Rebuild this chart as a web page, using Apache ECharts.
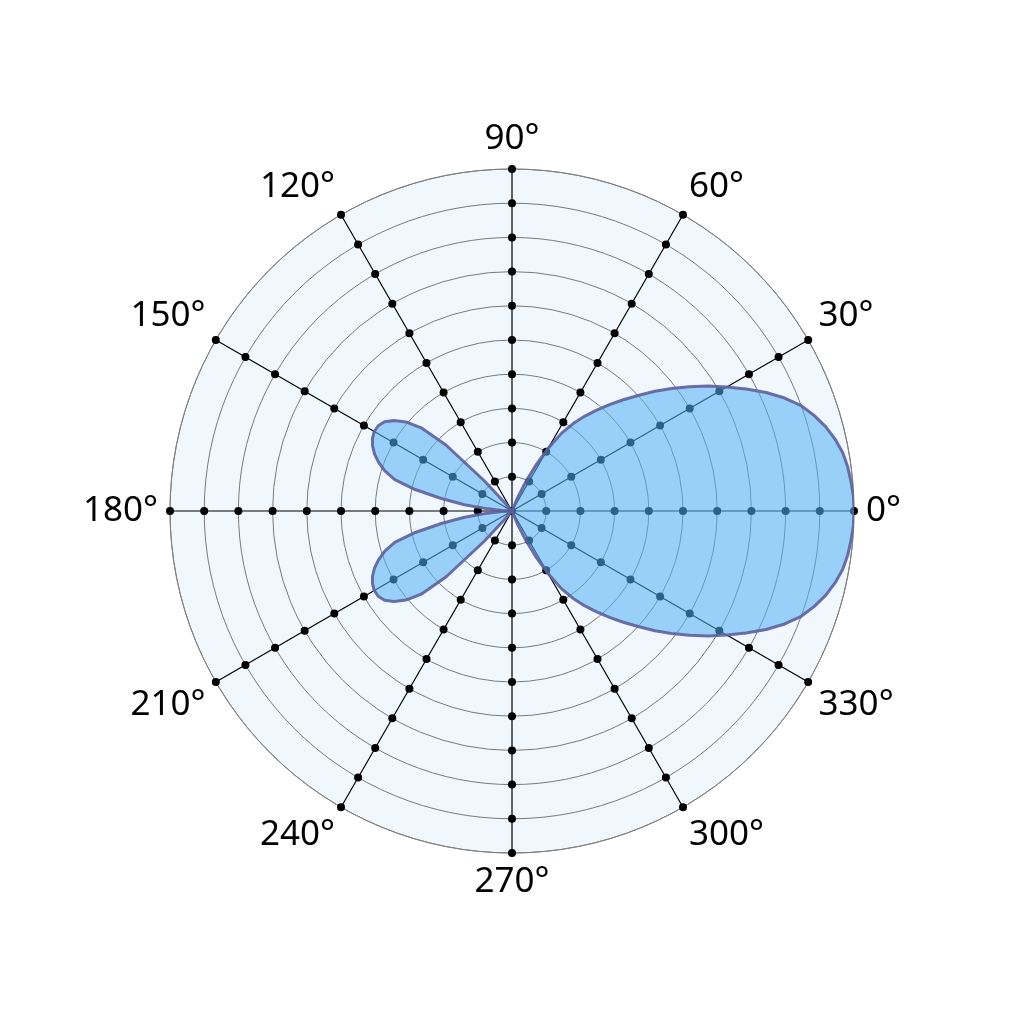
<!DOCTYPE html>
<html>
<head>
<meta charset="utf-8">
<script src="https://cdn.jsdelivr.net/npm/echarts@6/dist/echarts.min.js"></script>
<style>
  html, body { margin: 0; padding: 0; background: #fff; }
  #chart { width: 1024px; height: 1024px; }
</style>
</head>
<body>
<div id="chart"></div>
<script>
// grid ticks
var spokeAngles = [0, 30, 60, 90, 120, 150, 180, 210, 240, 270, 300, 330];
var ringValues = [1, 2, 3, 4, 5, 6, 7, 8, 9, 10];

// main lobe
var mainAngles = [0, 2.5, 5, 7.5, 10, 12.5, 15, 17.5, 20, 22.5, 25, 27.5, 30, 32.5, 35,
                  37.5, 40, 42.5, 45, 47.5, 50, 52.5, 55, 57.5, 60, 62.5, 65, 67.5, 70];
var mainRadii = [10, 9.99, 9.95, 9.9, 9.82, 9.68, 9.5, 9.27, 9.0, 8.63, 8.2, 7.72, 7.25, 6.8, 6.33,
                 5.88, 5.45, 5.0, 4.6, 4.22, 3.85, 3.5, 3.12, 2.7, 2.12, 1.5, 0.9, 0.4, 0];

// upper side lobe
var upperAngles = [130, 131, 132.5, 135, 137.5, 140, 142.5, 145, 147.5, 150, 152.5, 155,
                   157.5, 160, 162.5, 165, 167.5, 170, 172.5, 175, 177.5, 180];
var upperRadii = [0, 0.3, 1.2, 2.72, 3.6, 4.05, 4.35, 4.55, 4.64, 4.65, 4.6, 4.5,
                  4.35, 4.15, 3.9, 3.55, 2.9, 2.1, 1.4, 0.72, 0.3, 0];

// lower side lobe
var lowerAngles = [180, 182.5, 185, 187.5, 190, 192.5, 195, 197.5, 200, 202.5, 205, 207.5,
                   210, 212.5, 215, 217.5, 220, 222.5, 225, 227.5, 229, 230];
var lowerRadii = [0, 0.3, 0.72, 1.4, 2.1, 2.9, 3.55, 3.9, 4.15, 4.35, 4.5, 4.6,
                  4.65, 4.64, 4.55, 4.35, 4.05, 3.6, 2.72, 1.2, 0.3, 0];

function pairs(angles, radii) {
  var out = [];
  for (var i = 0; i < angles.length; i++) {
    out.push([radii[i], angles[i]]);
  }
  return out;
}

// main lobe is symmetric about 0°, mirror the read half
var mainData = [];
for (var i = mainAngles.length - 1; i > 0; i--) {
  mainData.push([mainRadii[i], 360 - mainAngles[i]]);
}
mainData = mainData.concat(pairs(mainAngles, mainRadii));

// dots on the spokes
var dotData = [[0, 0]];
for (var a = 0; a < spokeAngles.length; a++) {
  for (var r = 0; r < ringValues.length; r++) {
    dotData.push([ringValues[r], spokeAngles[a]]);
  }
}

var lobeStyle = {
  type: 'line',
  coordinateSystem: 'polar',
  polarIndex: 1,
  smooth: false,
  showSymbol: false,
  symbol: 'none',
  lineStyle: { color: '#5d5f9d', width: 3, opacity: 0.9, join: 'round' },
  areaStyle: { color: 'rgba(82,176,247,0.55)', opacity: 1 },
  z: 3
};

var chart = echarts.init(document.getElementById('chart'));
chart.setOption({
  backgroundColor: '#ffffff',
  animation: false,
  polar: [
    { center: [512, 511], radius: 342 },
    { center: [512, 511], radius: 342 }
  ],
  angleAxis: [
    {
      // background disc only
      polarIndex: 0,
      type: 'value', min: 0, max: 360, interval: 30,
      startAngle: 0, clockwise: false, z: 0,
      axisLine: { show: false },
      axisTick: { show: false },
      axisLabel: { show: false },
      splitLine: { show: false },
      splitArea: { show: true, areaStyle: { color: ['#f0f7fd'] } }
    },
    {
      polarIndex: 1,
      type: 'value', min: 0, max: 360, interval: 30,
      startAngle: 0, clockwise: false, z: 1,
      axisLine: { show: true, lineStyle: { color: '#808080', width: 1 } },
      axisTick: { show: false },
      axisLabel: {
        margin: 12,
        color: '#000',
        fontSize: 35,
        fontFamily: 'Noto Sans',
        formatter: function (v) { return v === 360 ? '' : v + '°'; }
      },
      splitLine: { show: true, lineStyle: { color: '#000', width: 1.2 } },
      splitArea: { show: false }
    }
  ],
  radiusAxis: [
    {
      polarIndex: 0,
      type: 'value', min: 0, max: 10, interval: 1, z: 0,
      axisLine: { show: false }, axisTick: { show: false }, axisLabel: { show: false },
      splitLine: { show: false }, splitArea: { show: false }
    },
    {
      polarIndex: 1,
      type: 'value', min: 0, max: 10, interval: 1, z: 1,
      axisLine: { show: false }, axisTick: { show: false }, axisLabel: { show: false },
      splitLine: { show: true, lineStyle: { color: '#7a7a7a', width: 1 } },
      splitArea: { show: false }
    }
  ],
  series: [
    {
      type: 'scatter',
      coordinateSystem: 'polar',
      polarIndex: 1,
      symbol: 'circle',
      symbolSize: 8,
      itemStyle: { color: '#000', opacity: 1 },
      data: dotData,
      z: 2
    },
    Object.assign({}, lobeStyle, { data: mainData }),
    Object.assign({}, lobeStyle, { data: pairs(upperAngles, upperRadii) }),
    Object.assign({}, lobeStyle, { data: pairs(lowerAngles, lowerRadii) })
  ]
});
</script>
</body>
</html>
